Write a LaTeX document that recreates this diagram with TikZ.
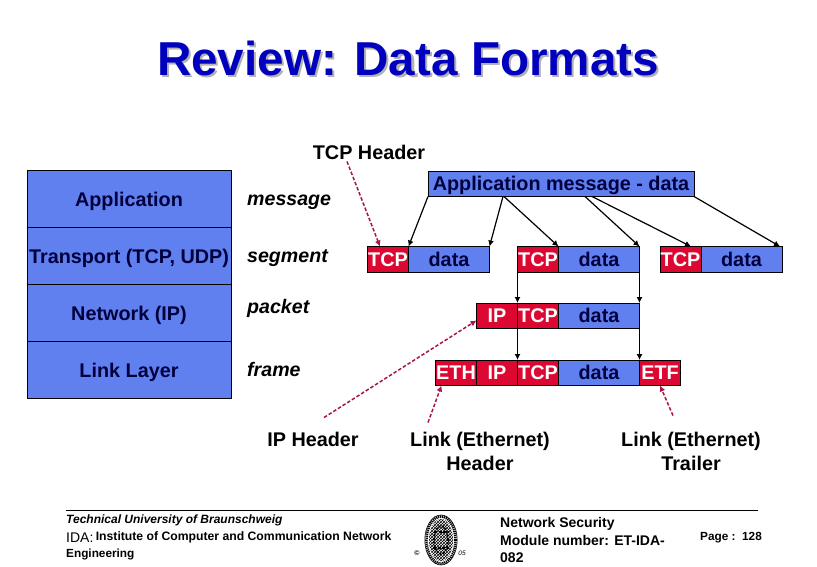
\documentclass[tikz,border=0pt]{standalone}
\usepackage{fontspec}
\setmainfont{Liberation Sans}
\usepackage{xcolor}
\usetikzlibrary{positioning,arrows.meta,patterns,shapes.geometric}
\definecolor{cellblue}{RGB}{96,128,240}
\definecolor{cellred}{RGB}{220,8,50}
\definecolor{navytext}{RGB}{0,0,60}
\definecolor{titleblue}{RGB}{0,0,190}
\definecolor{ptrred}{RGB}{170,20,70}
\tikzset{
    layercell/.style={draw=black, fill=cellblue, minimum width=204pt, minimum height=57pt, inner sep=0pt, outer sep=0pt, text=navytext, text height=16pt, text depth=1pt, font=\bfseries\fontsize{19.8}{20}\selectfont},
    unitlabel/.style={anchor=base west, inner sep=0pt, font=\bfseries\itshape\fontsize{19.6}{20}\selectfont},
    headlabel/.style={inner sep=0pt, align=center, font=\bfseries\fontsize{19.8}{24}\selectfont},
    redcell/.style={draw=black, fill=cellred, minimum width=41pt, minimum height=25.5pt, inner sep=0pt, outer sep=0pt, text=white, text height=15pt, text depth=1pt, font=\bfseries\fontsize{19.8}{20}\selectfont},
    datacell/.style={redcell, fill=cellblue, minimum width=81pt, text=navytext},
    split/.style={-{Latex[length=6pt,width=6pt]}, line width=1.2pt},
    thinsplit/.style={split, line width=0.9pt},
    ptr/.style={-{Latex[length=6pt,width=6pt]}, ptrred, line width=1.5pt, dash pattern=on 3.5pt off 2pt},
    footsmall/.style={anchor=west, inner sep=0pt, align=left}
}
\begin{document}
\begin{tikzpicture}[x=1pt,y=-1pt]
    \useasboundingbox (0,0) rectangle (817,567);

    % Title
    \node[font=\bfseries\fontsize{47.6}{48}\selectfont, text=gray!60, inner sep=0pt] (titleshadow) at (410,60) {Review: Data Formats};
    \node[font=\bfseries\fontsize{47.6}{48}\selectfont, text=titleblue, inner sep=0pt] (title) at (408,58) {Review: Data Formats};

    % Layer stack
    \node[layercell] (app) at (129,198.5) {Application};
    \node[layercell, below=0pt of app] (trans) {Transport (TCP, UDP)};
    \node[layercell, below=0pt of trans] (net) {Network (IP)};
    \node[layercell, below=0pt of net] (link) {Link Layer};

    % Unit names
    \node[unitlabel] (message) at (247,205) {message};
    \node[unitlabel] (segment) at (247,262) {segment};
    \node[unitlabel] (packet) at (247,313) {packet};
    \node[unitlabel] (frame) at (247,376.5) {frame};

    % Application message
    \node[datacell, minimum width=266pt, anchor=north west] (msg) at (428,171) {Application message - data};

    % Segments
    \node[redcell, anchor=north west] (tcpa) at (367.5,246.5) {TCP};
    \node[datacell, right=0pt of tcpa] (dataa) {data};
    \node[redcell, anchor=north west] (tcpb) at (517.5,246.5) {TCP};
    \node[datacell, right=0pt of tcpb] (datab) {data};
    \node[redcell, anchor=north west] (tcpc) at (660,246.5) {TCP};
    \node[datacell, right=0pt of tcpc] (datac) {data};

    % Packet
    \node[redcell, anchor=north west] (ipp) at (476.5,303) {IP};
    \node[redcell, right=0pt of ipp] (tcpp) {TCP};
    \node[datacell, right=0pt of tcpp] (datap) {data};

    % Frame
    \node[redcell, anchor=north west] (ethf) at (435.5,360) {ETH};
    \node[redcell, right=0pt of ethf] (ipf) {IP};
    \node[redcell, right=0pt of ipf] (tcpf) {TCP};
    \node[datacell, right=0pt of tcpf] (dataf) {data};
    \node[redcell, right=0pt of dataf] (etff) {ETF};

    % Splitting the message
    \draw[split] (msg.south west) -- (tcpa.north east);
    \draw[split] ([xshift=-58pt]msg.south) -- (dataa.north east);
    \draw[split] ([xshift=-57pt]msg.south) -- (tcpb.north east);
    \draw[split] ([xshift=24pt]msg.south) -- (datab.north east);
    \draw[split] ([xshift=31pt]msg.south) -- ([xshift=-10pt]tcpc.north east);
    \draw[split] (msg.south east) -- ([xshift=-2pt]datac.north east);

    % Going down the stack
    \draw[split, line width=1.5pt] (tcpb.south west) -- (ipp.north east);
    \draw[thinsplit] (datab.south east) -- (datap.north east);
    \draw[split, line width=1.5pt] (ipp.south east) -- (ipf.north east);
    \draw[thinsplit] (datap.south east) -- (dataf.north east);

    % Header labels
    \node[headlabel] (tcphdr) at (369,152) {TCP Header};
    \node[headlabel] (iphdr) at (313,439) {IP Header};
    \node[headlabel] (ethhdr) at (480,451) {Link (Ethernet)\\Header};
    \node[headlabel] (ethtrl) at (691,451) {Link (Ethernet)\\Trailer};

    \draw[ptr] ([xshift=-22pt,yshift=-2pt]tcphdr.south) -- ([xshift=-8pt]tcpa.north);
    \draw[ptr] ([xshift=11pt,yshift=14pt]iphdr.north) -- ([yshift=-4.7pt]ipp.west);
    \draw[ptr] ([xshift=-52pt,yshift=9pt]ethhdr.north) -- ([xshift=-14.5pt]ethf.south);
    \draw[ptr] ([xshift=-18pt,yshift=16pt]ethtrl.north) -- (etff.south);

    % Footer
    \coordinate (ruleleft) at (66,510);
    \coordinate (ruleright) at (758,510);
    \draw[line width=0.8pt] (ruleleft) -- (ruleright);
    \node[footsmall, font=\bfseries\itshape\fontsize{12}{14}\selectfont] (univ) at (66,520) {Technical University of Braunschweig};
    \node[footsmall, font=\fontsize{14}{14}\selectfont] (ida) at (66,537.5) {IDA:};
    \node[footsmall, right=2pt of ida, font=\bfseries\fontsize{12.2}{14}\selectfont] (inst) {Institute of Computer and Communication Network};
    \node[footsmall, font=\bfseries\fontsize{11.8}{14}\selectfont] (eng) at (66,554) {Engineering};
    \node[footsmall, font=\bfseries\fontsize{14}{17.5}\selectfont] (module) at (500,540) {Network Security\\Module number: ET-IDA-\\082};
    \node[footsmall, font=\bfseries\fontsize{11.8}{14}\selectfont] (page) at (700,538) {Page :\ \ 128};

    % Seal
    \draw[line width=2.6pt, dash pattern=on 1.2pt off 0.8pt] (441,540) ellipse (14.5pt and 23.5pt);
    \draw[line width=0.6pt] (441,540) ellipse (16.2pt and 25pt);
    \fill[pattern=crosshatch] (441,540) ellipse (12pt and 21pt);
    \draw[line width=1.8pt, dash pattern=on 2pt off 1.5pt] (441,540) ellipse (7pt and 14pt);
    \draw[line width=1.6pt, dash pattern=on 3pt off 1.5pt] (434,532) -- (448,532);
    \draw[line width=1.6pt, dash pattern=on 3pt off 1.5pt] (433,548) -- (449,548);
    \node[inner sep=0pt, font=\bfseries\fontsize{7}{7}\selectfont] (sealc) at (417,553) {©};
    \node[inner sep=0pt, font=\itshape\fontsize{6.5}{7}\selectfont] (sealyear) at (462,553) {05};
\end{tikzpicture}
\end{document}
